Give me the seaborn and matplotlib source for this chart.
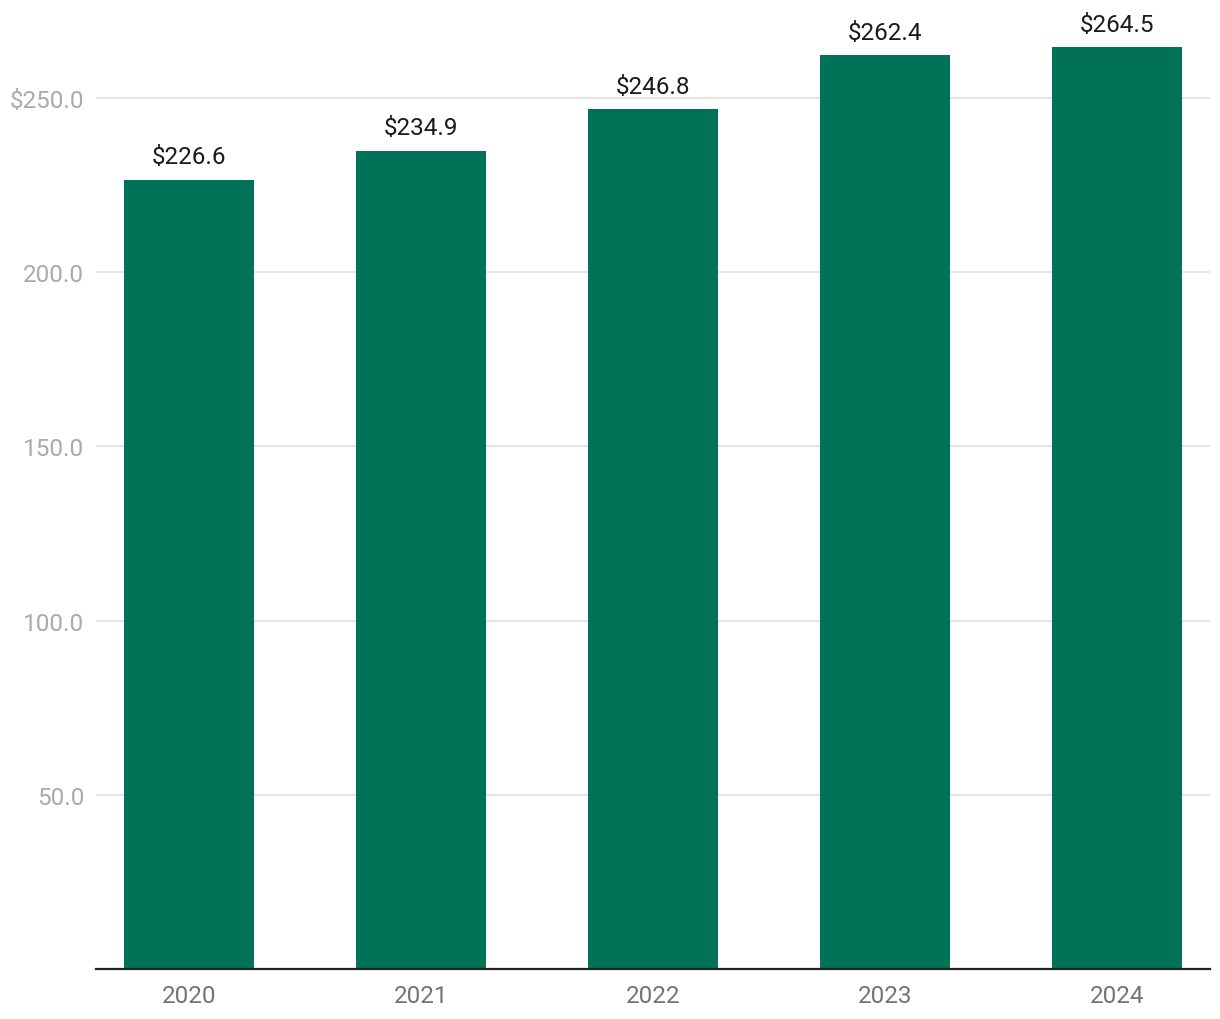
import matplotlib
matplotlib.use("Agg")
import matplotlib.pyplot as plt
import seaborn as sns
import pandas as pd

years = ["2020", "2021", "2022", "2023", "2024"]
values = [226.6, 234.9, 246.8, 262.4, 264.5]
ytick_vals = [50, 100, 150, 200, 250]
ytick_labels = ["50.0", "100.0", "150.0", "200.0", "$250.0"]

sns.set_theme(style="white")
plt.rcParams["font.family"] = ["Roboto", "DejaVu Sans"]

df = pd.DataFrame({"year": years, "value": values})

fig = plt.figure(figsize=(12.2, 10.2), dpi=100)
W, H = 1220, 1020
left, right, bottom_px, top_px = 96, 1210, 970, 10
ax = fig.add_axes([left / W, (H - bottom_px) / H, (right - left) / W, (bottom_px - top_px) / H])

sns.barplot(data=df, x="year", y="value", color="#017157", width=0.56,
            saturation=1, linewidth=0, edgecolor="none", ax=ax, zorder=3)

px_per_unit = 871 / 250
ax.set_ylim(0, (bottom_px - top_px) / px_per_unit)
ax.set_xlim((left - 189) / 232, (right - 189) / 232)

ax.set_yticks(ytick_vals)
ax.set_yticklabels(ytick_labels)
ax.yaxis.grid(True, color="#e0e0e0", linewidth=1.2, zorder=0)
ax.xaxis.grid(False)
for s in ["top", "right", "left"]:
    ax.spines[s].set_visible(False)
ax.spines["bottom"].set_color("#222222")
ax.spines["bottom"].set_linewidth(1.6)
ax.spines["bottom"].set_zorder(4)
ax.tick_params(axis="y", length=0, labelsize=17.5, labelcolor="#aaaaaa", pad=8.5)
ax.tick_params(axis="x", length=0, labelsize=17.5, labelcolor="#757575", pad=11)
ax.set_xlabel("")
ax.set_ylabel("")

for i, v in enumerate(values):
    ax.annotate(f"${v:.1f}", (i, v), xytext=(0, 8), textcoords="offset points",
                ha="center", va="bottom", fontsize=17.5, color="#1a1a1a",
                annotation_clip=False)

fig.savefig("out.png", dpi=100)
